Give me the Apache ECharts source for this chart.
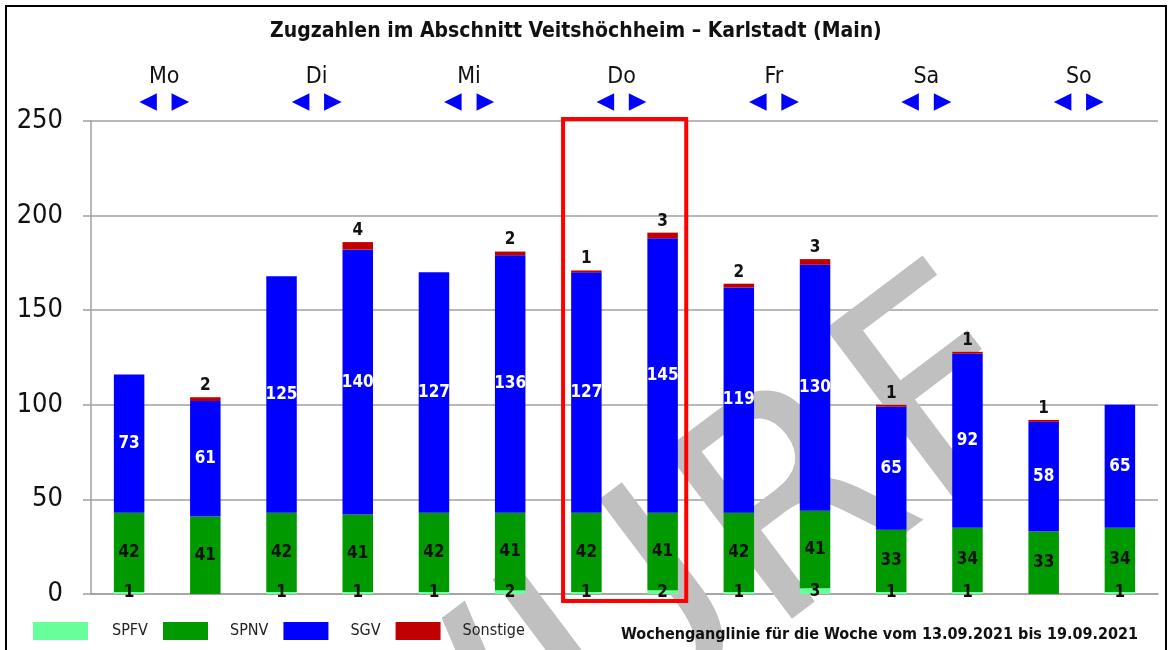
<!doctype html>
<html lang="de">
<head>
    <meta charset="UTF-8">
    <script src="https://cdn.jsdelivr.net/npm/echarts@6/dist/echarts.min.js"></script>
    <title>Zugzahlen</title>
    <style>
        html, body { margin: 0; padding: 0; background: #fff; }
    </style>
</head>
<body>
<!-- Diagramm -->
<div id="main" style="width: 1170px; height: 650px"></div>
<script type="text/javascript">
    // Wochentage (je zwei Balken pro Tag)
    var days = ['Mo', 'Di', 'Mi', 'Do', 'Fr', 'Sa', 'So'];
    var slots = ['Mo 1', 'Mo 2', 'Di 1', 'Di 2', 'Mi 1', 'Mi 2', 'Do 1', 'Do 2', 'Fr 1', 'Fr 2', 'Sa 1', 'Sa 2', 'So 1', 'So 2'];
    // Zugzahlen je Zuggattung
    var spfv = [1, 0, 1, 1, 1, 2, 1, 2, 1, 3, 1, 1, 0, 1];
    var spnv = [42, 41, 42, 41, 42, 41, 42, 41, 42, 41, 33, 34, 33, 34];
    var sgv = [73, 61, 125, 140, 127, 136, 127, 145, 119, 130, 65, 92, 58, 65];
    var sonstige = [0, 2, 0, 4, 0, 2, 1, 3, 2, 3, 1, 1, 1, 0];
    var yTicks = [0, 50, 100, 150, 200, 250];

    var FONT = 'DejaVu Sans Condensed';

    function hideZero(p) {
        return p.value ? String(p.value) : '';
    }

    var mychart = echarts.init(document.getElementById('main'));

    function serie(name, data, color, labelCfg) {
        return {
            name: name,
            type: 'bar',
            stack: 'zug',
            barWidth: '40%',
            data: data,
            itemStyle: { color: color },
            label: Object.assign({
                show: true,
                formatter: hideZero,
                fontFamily: FONT,
                fontWeight: 'bold',
                fontSize: 17,
                color: '#111'
            }, labelCfg)
        };
    }

    // Legende: erstes Feld etwas breiter wie im Original
    function legende(names, left, w, pad) {
        return {
            left: left,
            top: 622,
            padding: 0,
            icon: 'rect',
            itemWidth: w,
            itemHeight: 18,
            itemGap: 15,
            data: names,
            formatter: function (n) { return '{t|' + n + '}'; },
            textStyle: {
                fontFamily: FONT,
                fontSize: 16,
                color: '#222',
                rich: { t: { fontFamily: FONT, fontSize: 16, color: '#222', padding: [0, 0, 0, pad] } }
            }
        };
    }

    var option = {
        animation: false,
        title: [{
            text: 'Zugzahlen im Abschnitt Veitshöchheim – Karlstadt (Main)',
            left: 265,
            top: 16,
            textStyle: { fontFamily: FONT, fontWeight: 'bold', fontSize: 21, color: '#111' }
        }, {
            text: 'Wochenganglinie für die Woche vom 13.09.2021 bis 19.09.2021',
            left: 616,
            top: 622,
            textStyle: { fontFamily: FONT, fontWeight: 'bold', fontSize: 16, color: '#111' }
        }],
        legend: [
            legende(['SPFV'], 33, 55, 19),
            legende(['SPNV', 'SGV', 'Sonstige'], 163, 45, 17)
        ],
        grid: { left: 91, right: 12, top: 121, bottom: 56 },
        xAxis: [{
            type: 'category',
            data: slots,
            axisLine: { show: true, lineStyle: { color: '#a0a0a0', width: 1.5 } },
            axisTick: { show: false },
            axisLabel: { show: false }
        }, {
            type: 'category',
            data: days,
            position: 'top',
            axisLine: { show: false },
            axisTick: { show: false },
            axisLabel: {
                margin: 9,
                formatter: function (d) { return '{d|' + d + '}\n{a|◀  ▶}'; },
                rich: {
                    d: { fontFamily: FONT, fontSize: 23, color: '#111', lineHeight: 30, padding: [0, 6, 0, 0] },
                    a: { fontFamily: 'DejaVu Sans', fontSize: 23, color: '#0000ff', lineHeight: 20, padding: [0, 6, 0, 0] }
                }
            }
        }],
        yAxis: {
            type: 'value',
            min: yTicks[0],
            max: yTicks[yTicks.length - 1],
            interval: 50,
            axisLine: { show: true, lineStyle: { color: '#a0a0a0', width: 1.5 } },
            axisTick: { show: true, length: 8, lineStyle: { color: '#a0a0a0', width: 1.5 } },
            splitLine: { lineStyle: { color: '#a0a0a0', width: 1.5 } },
            axisLabel: { fontFamily: FONT, fontSize: 27, color: '#111', margin: 28 }
        },
        series: [
            serie('SPFV', spfv, '#66ff99', { position: 'inside' }),
            serie('SPNV', spnv, '#009900', { position: 'inside' }),
            serie('SGV', sgv, '#0000ff', { position: 'inside', color: '#fff' }),
            serie('Sonstige', sonstige, '#c00000', { position: 'top', distance: 3 })
        ]
    };
    mychart.setOption(option);

    // Rahmen, Wasserzeichen und Markierung Donnerstag
    var x6 = mychart.convertToPixel({ xAxisIndex: 0 }, 6);
    var x7 = mychart.convertToPixel({ xAxisIndex: 0 }, 7);
    var bw = x7 - x6;
    var yTop = mychart.convertToPixel({ yAxisIndex: 0 }, 250);
    var yNull = mychart.convertToPixel({ yAxisIndex: 0 }, 0);

    mychart.setOption({
        graphic: [{
            type: 'text',
            x: 1018,
            y: 354,
            rotation: 37 * Math.PI / 180,
            z: 1,
            style: {
                text: 'ENTWURF',
                fontFamily: 'DejaVu Sans',
                fontSize: 290,
                fill: '#c0c0c0',
                textAlign: 'right',
                textVerticalAlign: 'middle'
            }
        }, {
            type: 'rect',
            z: 100,
            shape: { x: x6 - 0.306 * bw, y: yTop - 2, width: (x7 - x6) + 0.616 * bw, height: (yNull - yTop) + 9 },
            style: { fill: 'none', stroke: '#ff0000', lineWidth: 4 }
        }, {
            type: 'rect',
            z: 100,
            shape: { x: 6, y: 6, width: 1160, height: 700 },
            style: { fill: 'none', stroke: '#000', lineWidth: 2 }
        }]
    });
</script>
</body>
</html>
